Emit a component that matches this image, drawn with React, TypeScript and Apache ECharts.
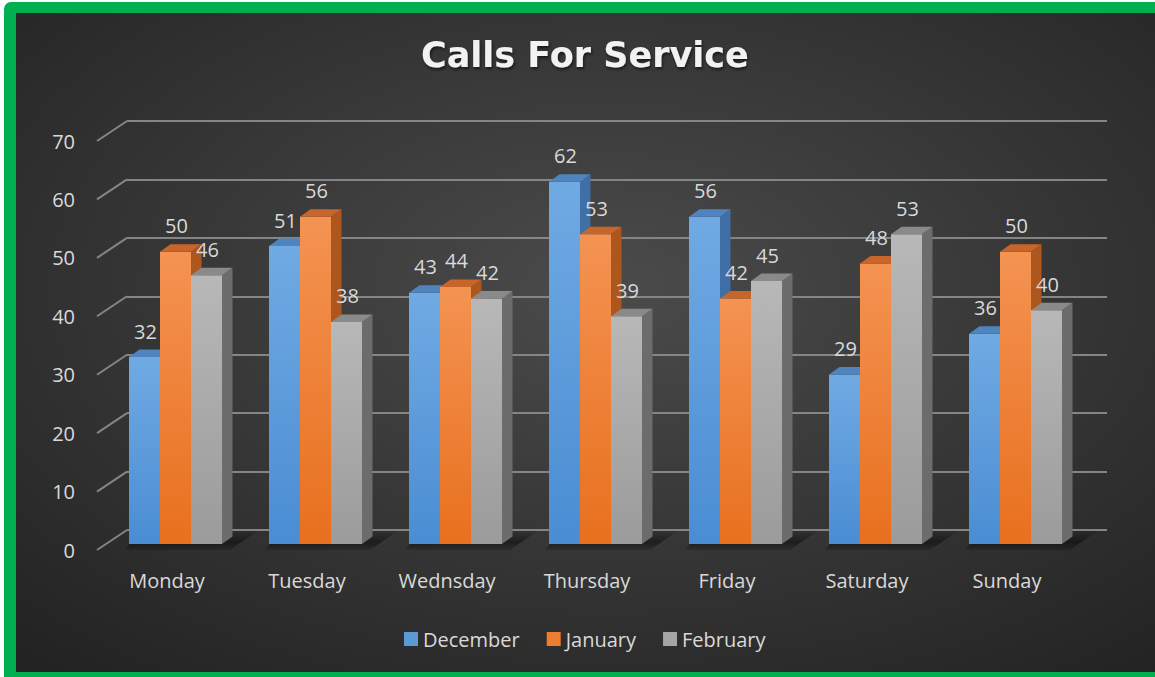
import React, { useEffect, useRef } from "react";
import * as echarts from "echarts";

const categories = ["Monday", "Tuesday", "Wednsday", "Thursday", "Friday", "Saturday", "Sunday"];
const december = [32, 51, 43, 62, 56, 29, 36];
const january = [50, 56, 44, 53, 42, 48, 50];
const february = [46, 38, 42, 39, 45, 53, 40];
const seriesNames = ["December", "January", "February"];
const yTicks = [0, 10, 20, 30, 40, 50, 60, 70];

const palettes = [
  { flat: "#5b9bd5", ft: "#70aae3", fb: "#4a8dd3", top: "#4f84be", side: "#3f6fa6" },
  { flat: "#ed7d31", ft: "#f49352", fb: "#e8701e", top: "#c8652b", side: "#ad561d" },
  { flat: "#a5a5a5", ft: "#b8b8b8", fb: "#9b9b9b", top: "#8a8a8a", side: "#6c6c6c" },
];

const BAR_W = 31;
const DX = 10.5;
const DY = -7.5;
const OFF_X = 8.5;
const OFF_Y = -6;
const FONT = '"Open Sans", "Noto Sans", sans-serif';
const TXT = "#d9d9d9";

function barRender(s: number) {
  return (params: any, api: any) => {
    const idx = api.value(0);
    const v = api.value(1);
    const base = api.coord([idx, 0]);
    const top = api.coord([idx, v]);
    const cx = base[0] + OFF_X;
    const L = cx - 1.5 * BAR_W + s * BAR_W;
    const R = L + BAR_W;
    const by = base[1] + OFF_Y;
    const ty = top[1] + OFF_Y;
    const p = palettes[s];
    return {
      type: "group",
      children: [
        {
          type: "polygon",
          shape: { points: [[R, ty], [R + DX, ty + DY], [R + DX, by + DY], [R, by]] },
          style: { fill: p.side },
        },
        {
          type: "rect",
          shape: { x: L, y: ty, width: BAR_W, height: by - ty },
          style: {
            fill: new echarts.graphic.LinearGradient(0, 0, 0, 1, [
              { offset: 0, color: p.ft },
              { offset: 1, color: p.fb },
            ]),
          },
        },
        {
          type: "polygon",
          shape: { points: [[L, ty], [R, ty], [R + DX, ty + DY], [L + DX, ty + DY]] },
          style: { fill: p.top },
        },
        {
          type: "text",
          z2: 50,
          style: {
            text: String(v),
            x: (L + R) / 2 + 1,
            y: ty - 26,
            align: "center",
            verticalAlign: "middle",
            fill: TXT,
            fontSize: 20,
            fontFamily: FONT,
          },
        },
      ],
    };
  };
}

export default function App() {
  const ref = useRef<HTMLDivElement>(null);
  useEffect(() => {
    document.body.style.margin = "0";
    if (!ref.current) return;
    const chart = echarts.init(ref.current, null, { renderer: "svg" });
    const monthData = [december, january, february];
    const option: any = {
      animation: false,
      backgroundColor: "#ffffff",
      title: {
        text: "Calls For Service",
        left: 416,
        top: 28,
        textStyle: {
          fontFamily: '"DejaVu Sans", sans-serif',
          fontWeight: "bold",
          fontSize: 35,
          lineHeight: 44,
          color: "#f2f2f2",
          textShadowColor: "rgba(0,0,0,0.6)",
          textShadowBlur: 3,
          textShadowOffsetX: 1,
          textShadowOffsetY: 2,
        },
      },
      legend: {
        data: seriesNames.map((n) => ({ name: n, icon: "rect" })),
        left: 399,
        top: 624,
        itemWidth: 14,
        itemHeight: 14,
        itemGap: 27,
        textStyle: { color: TXT, fontSize: 20, fontFamily: FONT },
      },
      graphic: {
        elements: [
          {
            type: "rect",
            z: -20,
            silent: true,
            shape: { x: 4, y: 2, width: 1170, height: 690, r: [7, 0, 0, 0] },
            style: { fill: "#00b050" },
          },
          {
            type: "rect",
            z: -19,
            silent: true,
            shape: { x: 16, y: 13, width: 1139, height: 659 },
            style: {
              fill: {
                type: "radial",
                x: 0.52,
                y: 0.42,
                r: 0.75,
                colorStops: [
                  { offset: 0, color: "#4b4b4b" },
                  { offset: 1, color: "#232323" },
                ],
              },
            },
          },
        ],
      },
      grid: [
        { left: 127, right: 48, top: 121, bottom: 147 },
        { left: 97, right: 78, top: 141, bottom: 127 },
      ],
      xAxis: [
        {
          type: "category",
          gridIndex: 0,
          data: categories,
          axisLine: { show: false },
          axisTick: { show: false },
          axisLabel: { show: false },
        },
        {
          type: "category",
          gridIndex: 1,
          data: categories,
          axisLine: { show: false },
          axisTick: { show: false },
          axisLabel: { color: TXT, fontSize: 20, fontFamily: FONT, margin: 20 },
        },
      ],
      yAxis: [
        {
          type: "value",
          gridIndex: 0,
          min: 0,
          max: 70,
          interval: 10,
          axisLabel: { show: false },
          axisLine: { show: false },
          axisTick: { show: false },
          splitLine: { show: true, lineStyle: { color: "#858585", width: 2 } },
        },
        {
          type: "value",
          gridIndex: 1,
          min: 0,
          max: 70,
          interval: 10,
          axisLabel: { color: TXT, fontSize: 20, fontFamily: FONT, margin: 22 },
          axisLine: { show: false },
          axisTick: { show: false },
          splitLine: { show: false },
        },
      ],
      series: [
        {
          type: "custom",
          name: "wall",
          xAxisIndex: 1,
          yAxisIndex: 1,
          silent: true,
          data: yTicks.map((t) => [0, t]),
          encode: { x: 0, y: 1 },
          renderItem: (params: any, api: any) => {
            const y = api.coord([0, api.value(1)])[1];
            const x0 = params.coordSys.x;
            return {
              type: "line",
              shape: { x1: x0, y1: y, x2: x0 + 30, y2: y - 20 },
              style: { stroke: "#858585", lineWidth: 2 },
            };
          },
        },
        {
          type: "custom",
          name: "floor",
          xAxisIndex: 1,
          yAxisIndex: 1,
          silent: true,
          data: categories.map((c, i) => [i, 0]),
          encode: { x: 0, y: 1 },
          renderItem: (params: any, api: any) => {
            const base = api.coord([api.value(0), 0]);
            const cx = base[0] + OFF_X;
            const L = cx - 1.5 * BAR_W;
            const R = cx + 1.5 * BAR_W;
            const by = base[1] + OFF_Y;
            return {
              type: "polygon",
              shape: {
                points: [
                  [L - 4, by + 6],
                  [R + 8, by + 6],
                  [R + DX + 26, by + DY - 6],
                  [L + DX, by + DY - 6],
                ],
              },
              style: {
                fill: new echarts.graphic.LinearGradient(0, 0, 0, 1, [
                  { offset: 0, color: "rgba(0,0,0,0.05)" },
                  { offset: 0.6, color: "rgba(0,0,0,0.45)" },
                  { offset: 1, color: "rgba(0,0,0,0.15)" },
                ]),
              },
            };
          },
        },
        ...seriesNames.map((name, s) => ({
          type: "custom",
          name,
          xAxisIndex: 1,
          yAxisIndex: 1,
          itemStyle: { color: palettes[s].flat },
          data: monthData[s].map((v, i) => [i, v]),
          encode: { x: 0, y: 1 },
          renderItem: barRender(s),
        })),
      ],
    };
    chart.setOption(option);
    return () => chart.dispose();
  }, []);
  return <div ref={ref} style={{ width: 1155, height: 677 }} />;
}
